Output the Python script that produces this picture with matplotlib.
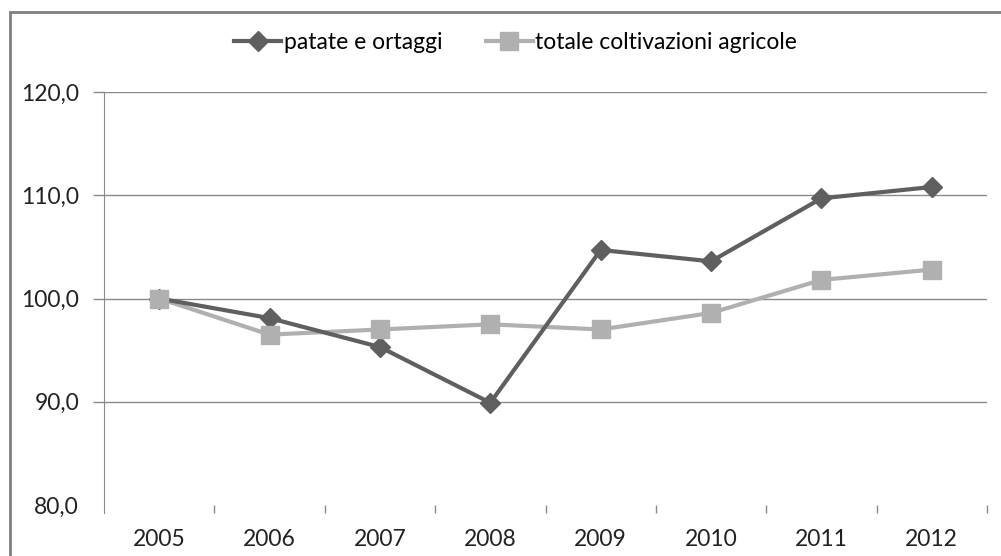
import matplotlib
matplotlib.use("Agg")
import matplotlib.pyplot as plt
from matplotlib.patches import Rectangle
from matplotlib.ticker import FixedLocator

plt.rcParams['font.family'] = ['Lato', 'DejaVu Sans']

# data
years = ['2005', '2006', '2007', '2008', '2009', '2010', '2011', '2012']
patate_ortaggi = [100.0, 98.1, 95.3, 89.9, 104.7, 103.6, 109.7, 110.8]
totale_coltivazioni = [100.0, 96.5, 97.0, 97.5, 97.0, 98.6, 101.8, 102.8]
y_ticks = [80, 90, 100, 110, 120]
y_tick_labels = ['80,0', '90,0', '100,0', '110,0', '120,0']

dark = '#5f5f5f'
light = '#b0b0b0'
grid_col = '#8a8a8a'
fs = 16.5

fig = plt.figure(figsize=(10.01, 5.56), dpi=100)
fig.patches.append(Rectangle((10 / 1001, -0.1), 1.2, 1.1 - 12 / 556,
                             transform=fig.transFigure, fill=False,
                             edgecolor='#7f7f7f', linewidth=2))

ax = fig.add_axes([104 / 1001, 1 - 505 / 556, (987 - 104) / 1001, (505 - 92) / 556])
x = list(range(len(years)))

# lines first, markers on top
ax.plot(x, totale_coltivazioni, color=light, lw=3, zorder=2)
ax.plot(x, patate_ortaggi, color=dark, lw=3, zorder=2.1)
ax.plot(x, patate_ortaggi, ls='none', marker='D', ms=10, color=dark, zorder=3)
ax.plot(x, totale_coltivazioni, ls='none', marker='s', ms=13, color=light, zorder=3.1)

ax.set_xlim(-0.5, len(years) - 0.5)
ax.set_ylim(80, 120)
ax.set_xticks(x)
ax.set_xticklabels(years)
ax.xaxis.set_minor_locator(FixedLocator([i + 0.5 for i in x]))
ax.tick_params(axis='x', which='major', length=0, pad=17, labelsize=fs, labelcolor='#222222')
ax.tick_params(axis='x', which='minor', length=6, width=1, color=grid_col, direction='out')
ax.set_yticks(y_ticks)
ax.set_yticklabels(y_tick_labels)
ax.tick_params(axis='y', length=8, width=1, color=grid_col, pad=10, labelsize=fs, labelcolor='#222222')
ax.yaxis.grid(True, color=grid_col, lw=1)
ax.set_axisbelow(True)

# no line or tick at the 80 level
first = ax.yaxis.get_major_ticks()[0]
first.tick1line.set_visible(False)
first.gridline.set_visible(False)

for s in ['top', 'right', 'bottom']:
    ax.spines[s].set_visible(False)
ax.spines['left'].set_color(grid_col)
ax.spines['left'].set_bounds(79.2, 120)

h1 = plt.Line2D([], [], color=dark, lw=3, marker='D', ms=10)
h2 = plt.Line2D([], [], color=light, lw=3, marker='s', ms=13)
fig.legend([h1, h2], ['patate e ortaggi', 'totale coltivazioni agricole'],
           loc='center', bbox_to_anchor=(0.515, 1 - 43 / 556), ncol=2, frameon=False,
           fontsize=fs, handlelength=2.05, handletextpad=0.1, columnspacing=1.9)

fig.savefig('out.png', dpi=100)
